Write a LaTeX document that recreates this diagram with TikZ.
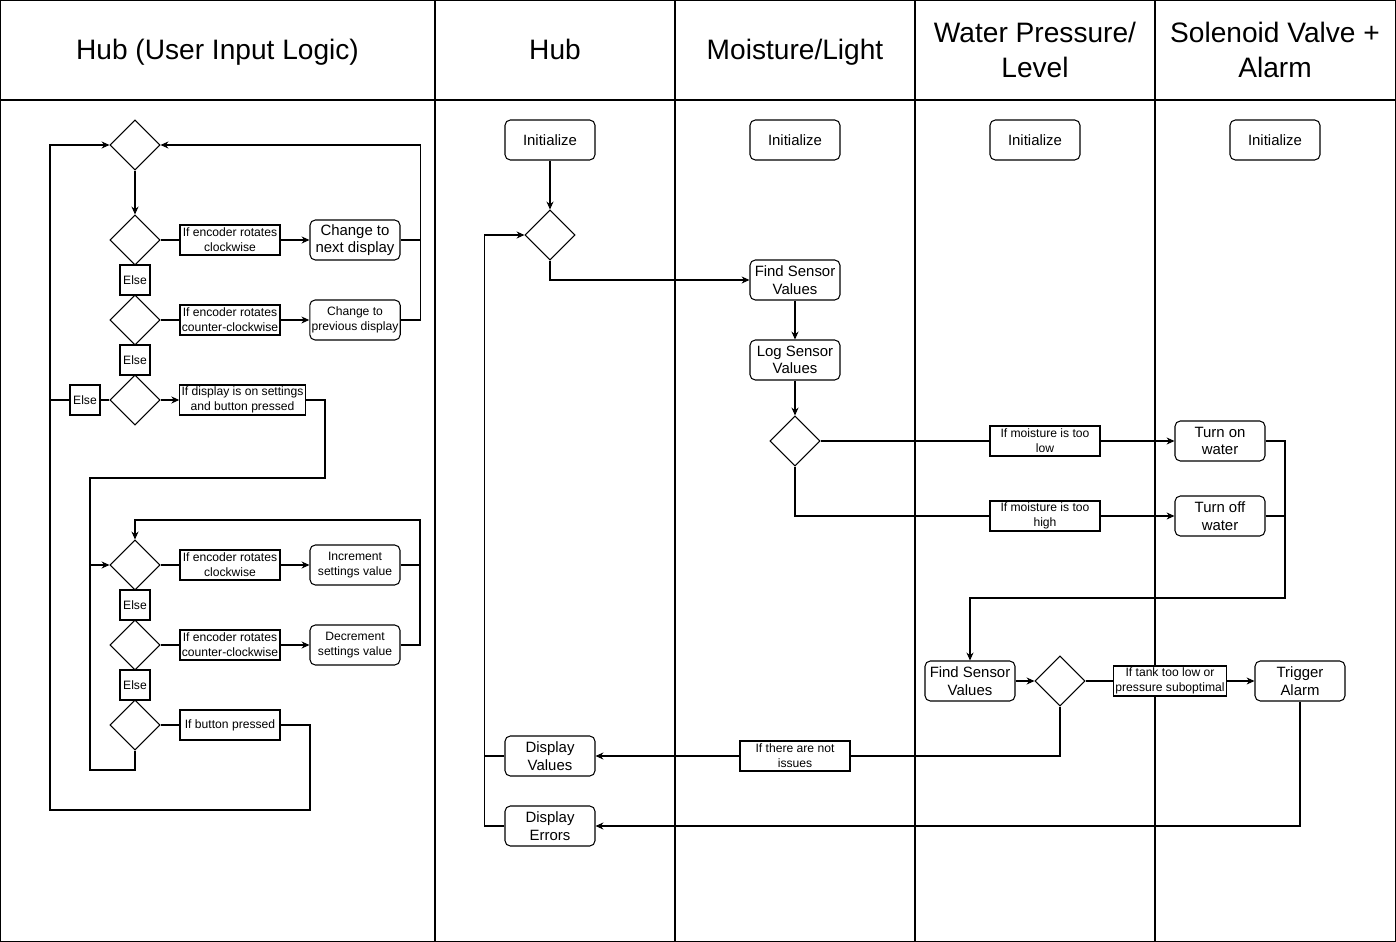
\documentclass[tikz,border=0pt]{standalone}
\usepackage{fontspec}
\setmainfont{Liberation Sans}
\usepackage{tikz}
\usetikzlibrary{arrows.meta, positioning, shapes.geometric}

\begin{document}
\begin{tikzpicture}[x=0.02cm, y=-0.02cm, line width=0.6pt,
        lanetitle/.style={align=center, font=\fontsize{16}{20}\selectfont},
        proc/.style={draw, rounded corners=3pt, minimum width=1.8cm,
                     minimum height=0.8cm, inner sep=1pt, align=center,
                     font=\fontsize{8.5}{10}\selectfont},
        procs/.style={font=\fontsize{6.9}{8.5}\selectfont},
        cond/.style={draw, fill=white, minimum width=2cm, minimum height=0.6cm,
                     inner sep=1pt, align=center,
                     font=\fontsize{6.9}{8.5}\selectfont},
        dec/.style={draw, diamond, aspect=1, minimum width=1cm,
                    minimum height=1cm, inner sep=0pt},
        els/.style={draw, minimum width=0.6cm, minimum height=0.6cm,
                    inner sep=0pt, font=\fontsize{6.9}{8.5}\selectfont},
        arr/.style={-{Stealth[length=4.5pt, width=4pt]}}]
        \useasboundingbox (0,0) rectangle (1396,942);
        % Couloirs
        \draw (0.5,0.5) rectangle (1395.5,941.5);
        \draw (0.5,100) -- (1395.5,100);
        \foreach \x in {435,675,915,1155}
          \draw (\x,0.5) -- (\x,941.5);
        % Titres
        \node[lanetitle, anchor=base] (tin) at (217.5,60) {Hub (User Input Logic)};
        \node[lanetitle, anchor=base] (thub) at (555,60) {Hub};
        \node[lanetitle, anchor=base] (tml) at (795,60) {Moisture/Light};
        \node[lanetitle] (twp) at (1035,50) {Water Pressure/\\Level};
        \node[lanetitle] (tsv) at (1275,50) {Solenoid Valve +\\Alarm};
        % Logique d'entree
        \node[dec] (d0) at (135,145) {};
        \node[dec] (d1) at (135,240) {};
        \node[cond] (l1) at (230,240) {If encoder rotates\\clockwise};
        \node[proc] (p1) at (355,240) {Change to\\next display};
        \node[els] (e1) at (135,280) {Else};
        \node[dec] (d2) at (135,320) {};
        \node[cond] (l2) at (230,320) {If encoder rotates\\counter-clockwise};
        \node[proc, procs] (p2) at (355,320) {Change to\\previous display};
        \node[els] (e2) at (135,360) {Else};
        \node[dec] (d3) at (135,400) {};
        \node[cond, minimum width=2.5cm] (l3) at (242.5,400)
          {If display is on settings\\and button pressed};
        \node[els] (e3) at (85,400) {Else};
        \node[dec] (d4) at (135,565) {};
        \node[cond] (l4) at (230,565) {If encoder rotates\\clockwise};
        \node[proc, procs] (p4) at (355,565) {Increment\\settings value};
        \node[els] (e4) at (135,605) {Else};
        \node[dec] (d5) at (135,645) {};
        \node[cond] (l5) at (230,645) {If encoder rotates\\counter-clockwise};
        \node[proc, procs] (p5) at (355,645) {Decrement\\settings value};
        \node[els] (e5) at (135,685) {Else};
        \node[dec] (d6) at (135,725) {};
        \node[cond] (l6) at (230,725) {If button pressed};
        \coordinate (loopL) at (50,810);
        \coordinate (loopR) at (310,810);
        \coordinate (setR) at (325,478);
        \coordinate (setL) at (90,478);
        \coordinate (backL) at (90,770);
        \coordinate (incR) at (420,520);
        % Fleches (logique)
        \draw[arr] (d0) -- (d1);
        \draw (d1) -- (l1);
        \draw[arr] (l1) -- (p1);
        \draw[arr] (p1.east) -- ++(20,0) |- (d0.east);
        \draw (p2.east) -- ++(20,0) |- (p1.east);
        \draw (d1) -- (e1) (e1) -- (d2);
        \draw (d2) -- (l2);
        \draw[arr] (l2) -- (p2);
        \draw (d2) -- (e2) (e2) -- (d3);
        \draw[arr] (d3) -- (l3);
        \draw (d3) -- (e3) (e3.west) -- (e3.west -| loopL);
        \draw[arr] (l3.east) -| (setR) -- (setL) |- (d4.west);
        \draw (d4) -- (l4);
        \draw[arr] (l4) -- (p4);
        \draw[arr] (p4.east) -| (incR) -| (d4.north);
        \draw (p5.east) -| (incR);
        \draw (d4) -- (e4) (e4) -- (d5);
        \draw (d5) -- (l5);
        \draw[arr] (l5) -- (p5);
        \draw (d5) -- (e5) (e5) -- (d6);
        \draw (d6) -- (l6);
        \draw[arr] (l6.east) -| (loopR) -- (loopL) |- (d0.west);
        \draw (d6.south) |- (backL) -- (setL);
        % Hub
        \node[proc] (h0) at (550,140) {Initialize};
        \node[dec] (hd) at (550,235) {};
        \node[proc] (hv) at (550,756) {Display\\Values};
        \node[proc] (he) at (550,826) {Display\\Errors};
        % Moisture/Light
        \node[proc] (m0) at (795,140) {Initialize};
        \node[proc] (m1) at (795,280) {Find Sensor\\Values};
        \node[proc] (m2) at (795,360) {Log Sensor\\Values};
        \node[dec] (md) at (795,441) {};
        \node[cond, minimum width=2.2cm] (lm1) at (1045,441)
          {If moisture is too\\low};
        \node[cond, minimum width=2.2cm] (lm2) at (1045,516)
          {If moisture is too\\high};
        % Water Pressure/Level
        \node[proc] (w0) at (1035,140) {Initialize};
        \node[proc] (w1) at (970,681) {Find Sensor\\Values};
        \node[dec] (wd) at (1060,681) {};
        \node[cond, minimum width=2.2cm] (lw) at (1170,681)
          {If tank too low or\\pressure suboptimal};
        \node[cond, minimum width=2.2cm] (lh) at (795,756)
          {If there are not\\issues};
        % Solenoid Valve + Alarm
        \node[proc] (s0) at (1275,140) {Initialize};
        \node[proc] (s1) at (1220,441) {Turn on\\water};
        \node[proc] (s2) at (1220,516) {Turn off\\water};
        \node[proc] (sa) at (1300,681) {Trigger\\Alarm};
        \coordinate (valveR) at (1285,598);
        % Fleches (capteurs)
        \draw[arr] (h0) -- (hd);
        \draw[arr] (hd.south) |- (m1.west);
        \draw[arr] (he.west) -- ++(-20,0) |- (hd.west);
        \draw (hv.west) -- ++(-20,0);
        \draw[arr] (m1) -- (m2);
        \draw[arr] (m2) -- (md);
        \draw (md) -- (lm1);
        \draw[arr] (lm1) -- (s1);
        \draw (md.south) |- (lm2);
        \draw[arr] (lm2) -- (s2);
        \draw[arr] (s1.east) -| (valveR) -| (w1.north);
        \draw (s2.east) -- (s2.east -| valveR);
        \draw[arr] (w1) -- (wd);
        \draw (wd) -- (lw);
        \draw[arr] (lw) -- (sa);
        \draw (wd.south) |- (lh);
        \draw[arr] (lh) -- (hv);
        \draw[arr] (sa.south) |- (he.east);
      \end{tikzpicture}
\end{document}
